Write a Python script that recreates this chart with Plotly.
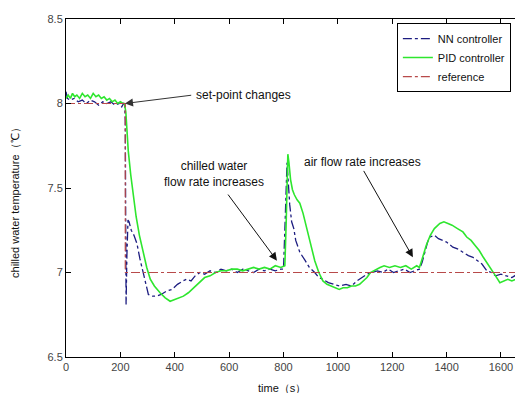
import plotly.graph_objects as go

# ---------------- data ----------------
ref_t = [0, 218, 218, 1681]
ref_y = [8.0, 8.0, 7.0, 7.0]

nn_t = [0, 5, 15, 30, 45, 60, 75, 90, 105, 120, 135, 150, 165, 180, 195, 205, 212, 216, 218, 221,
        224, 228, 232, 240, 250, 261, 272, 284, 295, 303, 318, 334, 350, 370, 390, 410, 430, 444, 460, 475,
        493, 510, 530, 550, 570, 590, 610, 630, 650, 670, 690, 710, 730, 750, 770, 790, 800, 806, 810, 813,
        817, 823, 830, 838, 845, 860, 880, 895, 915, 930, 945, 965, 985, 1007, 1030, 1050, 1070, 1090, 1107, 1125,
        1145, 1165, 1185, 1205, 1225, 1245, 1265, 1285, 1300, 1310, 1320, 1330, 1339, 1355, 1370, 1385, 1400, 1423, 1440, 1460,
        1480, 1497, 1515, 1530, 1548, 1565, 1580, 1600, 1620, 1640, 1660, 1681]
nn_y = [8.07, 8.03, 8.02, 8.03, 8.01, 8.02, 8.00, 8.02, 8.01, 7.99, 8.01, 8.00, 8.01, 7.99, 8.00, 7.98, 8.00, 7.99, 7.90, 6.81,
        7.10, 7.31, 7.30, 7.25, 7.22, 7.17, 7.08, 7.00, 6.92, 6.87, 6.86, 6.86, 6.87, 6.89, 6.90, 6.93, 6.95, 6.96, 6.95, 6.98,
        7.00, 6.99, 7.01, 7.00, 7.02, 7.01, 7.02, 7.00, 7.02, 7.01, 7.00, 7.02, 7.01, 7.02, 7.01, 7.02, 7.02, 7.30, 7.55, 7.65,
        7.55, 7.40, 7.30, 7.26, 7.19, 7.12, 7.07, 7.03, 7.00, 6.97, 6.96, 6.94, 6.93, 6.92, 6.93, 6.92, 6.95, 6.97, 6.99, 7.00,
        7.01, 7.00, 7.02, 7.00, 7.01, 7.02, 7.00, 7.01, 7.02, 7.06, 7.12, 7.18, 7.21, 7.22, 7.20, 7.19, 7.18, 7.15, 7.14, 7.12,
        7.10, 7.09, 7.07, 7.05, 7.01, 7.00, 6.98, 6.99, 6.98, 6.97, 6.99, 6.97]

pid_t = [0, 8, 16, 24, 32, 40, 50, 60, 70, 80, 90, 100, 110, 120, 130, 140, 150, 160, 170, 180,
         190, 200, 210, 215, 220, 229, 238, 247, 258, 270, 283, 297, 310, 325, 346, 365, 383, 400, 415, 432,
         450, 470, 493, 510, 530, 550, 570, 590, 610, 630, 650, 670, 690, 710, 730, 750, 770, 790, 805, 810,
         813, 816, 820, 826, 833, 840, 850, 860, 872, 885, 900, 915, 930, 945, 960, 975, 990, 1005, 1019, 1035,
         1050, 1065, 1080, 1095, 1107, 1120, 1140, 1155, 1170, 1190, 1210, 1230, 1250, 1270, 1290, 1300, 1310, 1325, 1340, 1355,
         1375, 1390, 1405, 1420, 1440, 1460, 1474, 1490, 1505, 1520, 1535, 1548, 1565, 1580, 1596, 1610, 1625, 1640, 1655, 1670,
         1681]
pid_y = [8.03, 8.05, 8.03, 8.06, 8.04, 8.05, 8.03, 8.06, 8.04, 8.05, 8.03, 8.06, 8.04, 8.05, 8.03, 8.04, 8.02, 8.03, 8.01, 8.02,
         8.00, 8.01, 8.00, 8.00, 7.95, 7.72, 7.58, 7.45, 7.33, 7.22, 7.12, 7.03, 6.96, 6.92, 6.88, 6.85, 6.83, 6.84, 6.85, 6.86,
         6.88, 6.91, 6.95, 6.97, 6.98, 7.00, 7.01, 7.01, 7.02, 7.02, 7.01, 7.02, 7.03, 7.02, 7.03, 7.02, 7.04, 7.03, 7.04, 7.30,
         7.60, 7.70, 7.65, 7.55, 7.49, 7.46, 7.43, 7.41, 7.35, 7.27, 7.17, 7.07, 7.00, 6.95, 6.93, 6.92, 6.91, 6.90, 6.91, 6.91,
         6.92, 6.92, 6.93, 6.95, 6.97, 7.00, 7.02, 7.03, 7.04, 7.03, 7.04, 7.03, 7.04, 7.02, 7.04, 7.03, 7.08, 7.16, 7.22, 7.26,
         7.29, 7.30, 7.29, 7.28, 7.26, 7.24, 7.21, 7.19, 7.16, 7.13, 7.09, 7.06, 7.02, 6.98, 6.94, 6.95, 6.96, 6.95, 6.96, 6.97,
         6.96]

assert len(nn_t) == len(nn_y), (len(nn_t), len(nn_y))
assert len(pid_t) == len(pid_y), (len(pid_t), len(pid_y))

x_ticks = [0, 200, 400, 600, 800, 1000, 1200, 1400, 1600]
y_ticks = [6.5, 7, 7.5, 8, 8.5]
y_tick_text = ["6.5", "7", "7.5", "8", "8.5"]

x_title = "time（s）"
y_title = "chilled water temperature（℃）"

FONT = "Liberation Sans, Arial, sans-serif"

fig = go.Figure()
fig.add_trace(go.Scatter(x=nn_t, y=nn_y, mode="lines", name="NN controller",
                         line=dict(color="#1c1c80", width=1.3, dash="dashdot")))
fig.add_trace(go.Scatter(x=pid_t, y=pid_y, mode="lines", name="PID controller",
                         line=dict(color="#2ee62e", width=1.6)))
fig.add_trace(go.Scatter(x=ref_t, y=ref_y, mode="lines", name="reference",
                         line=dict(color="#b84a4a", width=1.2, dash="dashdot")))

ann_font = dict(family=FONT, size=12, color="#111111")
title_font = dict(family=FONT, size=11, color="#111111")
annotations = [
    # set-point changes
    dict(x=217, y=8.0, ax=466, ay=8.05, xref="x", yref="y", axref="x", ayref="y",
         text="", showarrow=True, arrowhead=2, arrowsize=1.6, arrowwidth=1, arrowcolor="#333333"),
    dict(x=470, y=8.05, xref="x", yref="y", text="set-point changes", showarrow=False,
         xanchor="left", yanchor="middle", font=ann_font),
    # chilled water flow rate increases
    dict(x=776, y=7.07, ax=592, ay=7.47, xref="x", yref="y", axref="x", ayref="y",
         text="", showarrow=True, arrowhead=2, arrowsize=1.6, arrowwidth=1, arrowcolor="#111111"),
    dict(x=544, y=7.58, xref="x", yref="y", text="chilled water<br>flow rate increases", showarrow=False,
         xanchor="center", yanchor="middle", font=ann_font, align="center"),
    # air flow rate increases
    dict(x=1276, y=7.09, ax=1092, ay=7.61, xref="x", yref="y", axref="x", ayref="y",
         text="", showarrow=True, arrowhead=2, arrowsize=1.6, arrowwidth=1, arrowcolor="#111111"),
    dict(x=1089, y=7.655, xref="x", yref="y", text="air flow rate increases", showarrow=False,
         xanchor="center", yanchor="middle", font=ann_font),
    # axis titles
    dict(x=0.473, y=-0.092, xref="paper", yref="paper", text=x_title, showarrow=False,
         xanchor="center", yanchor="middle", font=title_font),
    dict(x=-0.112, y=0.464, xref="paper", yref="paper", text=y_title, showarrow=False,
         textangle=-90, xanchor="center", yanchor="middle", font=title_font),
]

# page body has an 8px margin, so the figure is sized/offset to compensate
fig.update_layout(
    width=515, height=385,
    margin=dict(l=58, r=0, t=11, b=36, autoexpand=False),
    paper_bgcolor="white", plot_bgcolor="white",
    font=dict(family=FONT, size=11, color="#333333"),
    showlegend=True,
    legend=dict(x=0.724, y=0.988, xanchor="left", yanchor="top",
                bgcolor="white", bordercolor="black", borderwidth=1,
                font=dict(family=FONT, size=11, color="#111111"),
                tracegroupgap=0, itemwidth=30),
    annotations=annotations,
)
fig.update_xaxes(range=[0, 1681], tickvals=x_ticks, ticks="inside", ticklen=5,
                 tickcolor="black", showline=True, linecolor="black", linewidth=1,
                 mirror="ticks", showgrid=False, zeroline=False, automargin=False,
                 tickfont=dict(family=FONT, size=11, color="#444444"))
fig.update_yaxes(range=[6.5, 8.5], tickvals=y_ticks, ticktext=y_tick_text, ticks="inside", ticklen=5,
                 tickcolor="black", showline=True, linecolor="black", linewidth=1,
                 mirror=False, showgrid=False, zeroline=False, automargin=False,
                 tickfont=dict(family=FONT, size=11, color="#444444"))

fig.write_html("out.html")
